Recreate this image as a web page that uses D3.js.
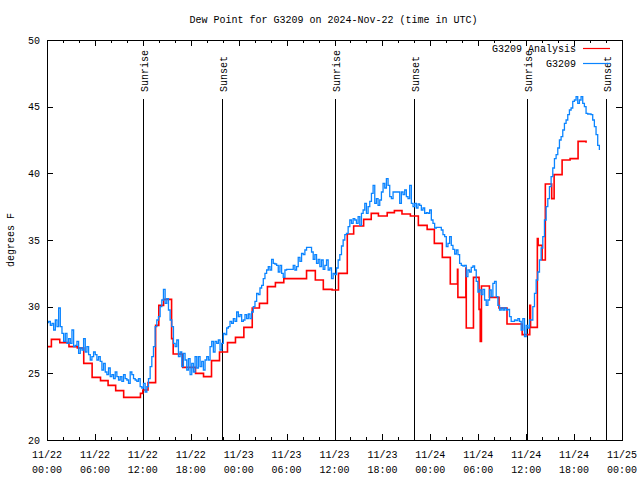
<!DOCTYPE html>
<html><head><meta charset="utf-8">
<script src="https://cdn.jsdelivr.net/npm/d3@7"></script>
<style>
body{margin:0;background:#fff}
svg{display:block}
text{font-family:"Liberation Mono","DejaVu Sans Mono",monospace;font-size:10px;fill:#000}
</style></head><body>
<svg id="c" width="640" height="480"></svg>
<script>
const titleText = "Dew Point for G3209 on 2024-Nov-22 (time in UTC)";
const yLabelText = "degrees F";
const legendLabels = ["G3209 Analysis", "G3209"];
const seriesColors = ["#ff0000", "#0a84ff"];
const yTickValues = [20, 25, 30, 35, 40, 45, 50];
const xMajorHours = [0, 6, 12, 18, 24, 30, 36, 42, 48, 54, 60, 66, 72];
const xTickDates = ["11/22","11/22","11/22","11/22","11/23","11/23","11/23","11/23","11/24","11/24","11/24","11/24","11/25"];
const xTickTimes = ["00:00","06:00","12:00","18:00","00:00","06:00","12:00","18:00","00:00","06:00","12:00","18:00","00:00"];
const xMinorHours = [2,4,8,10,14,16,20,22,26,28,32,34,38,40,44,46,50,52,56,58,62,64,68,70];
const sunriseHours = [12.05, 36.07, 60.08];
const sunsetHours = [21.93, 45.95, 69.97];

// Analysis (step series): hour since 11/22 00:00 UTC, dew point F
const analysisHours = [0, 0.55, 1.6, 2.75, 3.8, 4.6, 5.65, 6.7, 7.65, 8.6, 9.6, 11.7, 12.0, 12.65, 13.6, 14.0, 14.6, 15.6, 15.8, 17.0,
  18.6, 19.6, 20.6, 21.6, 22.6, 23.6, 24.65, 25.7, 26.6, 27.6, 28.6, 29.65, 32.5, 33.6, 34.6, 35.7, 36.5, 37.6, 38.4, 39.65,
  40.6, 41.5, 42.6, 43.5, 44.45, 45.5, 46.5, 47.6, 48.5, 49.5, 50.5, 51.4, 51.45, 52.45, 52.5, 53.4, 54.1, 54.25, 54.4, 55.4,
  56.6, 57.6, 59.5, 60.45, 60.55, 61.4, 61.5, 62.0, 62.4, 63.2, 63.5, 64.5, 65.5, 66.5, 67.5];
const analysisValues = [27.0, 27.55, 27.3, 27.0, 26.9, 25.75, 24.7, 24.45, 24.1, 23.7, 23.2, 23.5, 23.75, 24.3, 28.6, 30.1, 30.55, 27.6, 26.45, 25.45,
  25.0, 24.75, 25.95, 26.6, 27.3, 27.7, 28.45, 29.9, 30.25, 31.5, 31.8, 32.1, 32.7, 32.0, 31.3, 31.25, 32.5, 35.45, 36.05, 36.55,
  37.0, 36.8, 37.05, 37.2, 36.95, 36.8, 36.1, 35.8, 34.75, 33.7, 31.7, 32.8, 30.7, 32.9, 28.4, 32.2, 29.8, 27.4, 31.55, 30.7,
  29.9, 28.7, 27.9, 30.1, 28.45, 35.1, 34.6, 33.5, 39.2, 38.1, 39.9, 41.0, 41.1, 42.4, 42.3];

// Observations: regular samples starting 11/22 00:00 UTC
const obsIntervalMinutes = 12.5;
const obsValues = [
  28.8, 28.9, 28.6, 28.75, 28.25, 29.0, 28.5, 29.9, 28.5, 28.0,
  27.4, 28.0, 27.25, 27.6, 27.25, 28.25, 27.0, 27.1, 27.4, 26.5,
  26.9, 26.75, 27.6, 26.6, 27.0, 26.4, 26.0, 26.25, 26.6, 26.4,
  26.0, 26.25, 25.9, 25.25, 25.75, 25.1, 24.9, 25.4, 24.75, 24.9,
  24.6, 25.1, 24.75, 24.5, 24.75, 24.4, 24.9, 24.6, 24.5, 24.25,
  25.1, 24.9, 24.6, 24.5, 24.4, 24.6, 24.0, 23.9, 24.25, 23.6,
  24.0, 24.6, 25.5, 26.25, 27.0, 28.5, 29.0, 29.25, 30.0, 30.5,
  31.3, 30.25, 30.6, 29.75, 29.0, 28.5, 27.25, 27.0, 27.5, 26.25,
  26.6, 25.5, 26.5, 26.0, 25.25, 26.1, 24.9, 25.75, 25.1, 26.25,
  25.4, 26.25, 25.5, 25.9, 25.25, 26.0, 26.25, 26.0, 27.0, 27.4,
  26.6, 27.4, 27.25, 27.5, 26.75, 27.25, 28.0, 27.9, 28.4, 28.5,
  28.9, 28.75, 29.1, 28.9, 29.6, 29.25, 29.4, 28.9, 29.0,
  29.4, 29.1, 29.45, 29.1, 29.6, 30.0, 30.4, 31.0, 30.9, 31.4,
  31.6, 32.1, 32.5, 32.75, 33.0, 32.75, 33.55, 33.25, 33.2, 33.1,
  32.6, 33.1, 32.5, 32.2, 32.75, 32.8, 32.8, 32.8, 32.8, 33.1,
  32.75, 33.0, 33.7, 33.4, 34.0, 33.9, 34.25, 34.45, 34.45, 34.45,
  34.1, 33.55, 33.9, 33.25, 33.55, 33.0, 33.5, 32.8, 33.1, 33.5,
  32.75, 32.9, 32.1, 32.5, 32.4, 32.9, 33.5, 33.9, 34.55, 35.0,
  35.4, 35.5, 36.0, 36.5, 36.25, 36.6, 36.5, 36.25, 36.75, 36.1,
  37.0, 37.25, 37.75, 37.0, 37.5, 37.9, 38.5, 39.1, 37.75, 38.1,
  37.6, 38.0, 38.6, 39.25, 38.9, 39.6, 39.1, 38.25, 38.1, 38.6,
  38.6, 38.6, 38.6, 37.75, 38.6, 38.4, 38.75, 38.25, 38.1, 39.1,
  37.75, 37.5, 37.75, 37.4, 37.7, 37.6, 37.25, 37.4, 37.0,
  37.05, 37.0, 37.25, 36.5, 36.25, 35.9, 35.95, 35.95, 35.95, 35.75,
  35.4, 35.25, 34.5, 34.75, 35.25, 34.6, 34.3, 33.95, 34.25, 33.9,
  33.25, 33.1, 33.05, 33.1, 32.25, 32.75, 32.6, 32.95, 33.05, 32.75,
  31.9, 31.1, 31.25, 30.9, 31.3, 30.5, 30.1, 30.5, 31.25, 30.75,
  31.75, 31.9, 30.75, 30.1, 29.75, 29.9, 29.75, 29.9, 29.75, 29.8,
  29.25, 28.9, 28.9, 29.0, 28.95, 29.1, 28.9, 28.25, 29.1, 27.75,
  28.6, 28.4, 29.0, 29.0, 30.0, 31.0, 32.0, 32.6, 33.5, 34.4,
  35.25, 36.5, 37.5, 38.1, 39.0, 39.75, 40.4, 41.1, 41.4, 41.9,
  42.5, 42.75, 43.25, 43.75, 44.0, 44.4, 44.75, 44.9, 45.4, 45.5,
  45.75, 45.25, 45.5, 45.75, 45.25, 45.0, 44.5, 44.45, 44.45, 44.4,
  44.0, 43.5, 42.9, 42.1, 41.75];

const t0 = Date.UTC(2024, 10, 22, 0, 0);
const toDate = h => new Date(t0 + h * 3600e3);

const L = 47, R = 622, T = 40, B = 440;
const svg = d3.select("#c");
svg.append("rect").attr("width", 640).attr("height", 480).attr("fill", "#fff");

const x = d3.scaleUtc().domain([toDate(0), toDate(72)]).range([L, R]);
const y = d3.scaleLinear().domain([20, 50]).range([B, T]);

// Title
svg.append("text").attr("x", (L + R) / 2 - 1).attr("y", 23).attr("text-anchor", "middle").text(titleText);
// Y label
svg.append("text").attr("transform", `translate(14,${(T + B) / 2}) rotate(-90)`).attr("text-anchor", "middle").text(yLabelText);

// Axes ticks (inward, mirrored)
const tickG = svg.append("g").attr("shape-rendering", "crispEdges").attr("stroke", "#000");
function xt(h) { return Math.round(x(toDate(h))) + 0.5; }
function yt(v) { return Math.round(y(v)) + 0.5; }
xMajorHours.forEach(h => {
  tickG.append("line").attr("x1", xt(h)).attr("x2", xt(h)).attr("y1", B).attr("y2", B - 6);
  tickG.append("line").attr("x1", xt(h)).attr("x2", xt(h)).attr("y1", T).attr("y2", T + 6);
});
xMinorHours.forEach(h => {
  tickG.append("line").attr("x1", xt(h)).attr("x2", xt(h)).attr("y1", B).attr("y2", B - 3);
  tickG.append("line").attr("x1", xt(h)).attr("x2", xt(h)).attr("y1", T).attr("y2", T + 3);
});
yTickValues.forEach(v => {
  tickG.append("line").attr("x1", L).attr("x2", L + 6).attr("y1", yt(v)).attr("y2", yt(v));
  tickG.append("line").attr("x1", R).attr("x2", R - 6).attr("y1", yt(v)).attr("y2", yt(v));
});

// Tick labels
yTickValues.forEach(v => {
  svg.append("text").attr("x", 40).attr("y", y(v)).attr("dy", "0.35em").attr("text-anchor", "end").text(v);
});
xMajorHours.forEach((h, i) => {
  const t = svg.append("text").attr("text-anchor", "middle");
  t.append("tspan").attr("x", x(toDate(h))).attr("y", 458).text(xTickDates[i]);
  t.append("tspan").attr("x", x(toDate(h))).attr("y", 473).text(xTickTimes[i]);
});

// Sunrise / sunset markers
const events = sunriseHours.map(h => ({h, label: "Sunrise"})).concat(sunsetHours.map(h => ({h, label: "Sunset"})));
events.forEach(e => {
  const xx = xt(e.h);
  svg.append("line").attr("x1", xx).attr("x2", xx).attr("y1", 99).attr("y2", B)
    .attr("stroke", "#000").attr("stroke-width", 1).attr("shape-rendering", "crispEdges");
  svg.append("text").attr("transform", `translate(${xx + 4},92) rotate(-90)`).text(e.label);
});

// Data lines
const clip = svg.append("clipPath").attr("id", "pc").append("rect").attr("x", L).attr("y", T).attr("width", R - L).attr("height", B - T);
const analysis = analysisHours.map((h, i) => [toDate(h), analysisValues[i]]);
const obs = obsValues.map((v, i) => [toDate(i * obsIntervalMinutes / 60), v]);
const line = d3.line().x(d => x(d[0])).y(d => y(d[1])).curve(d3.curveStepAfter);
svg.append("path").datum(analysis).attr("d", line).attr("fill", "none")
  .attr("stroke", seriesColors[0]).attr("stroke-width", 1.6).attr("clip-path", "url(#pc)");
svg.append("path").datum(obs).attr("d", line).attr("fill", "none")
  .attr("stroke", seriesColors[1]).attr("stroke-width", 1.3).attr("clip-path", "url(#pc)");

// Legend
legendLabels.forEach((lab, i) => {
  const ly = 48 + i * 15;
  svg.append("text").attr("x", 576).attr("y", ly).attr("dy", "0.35em").attr("text-anchor", "end").text(lab);
  svg.append("line").attr("x1", 583).attr("x2", 610).attr("y1", ly + 0.5).attr("y2", ly + 0.5)
    .attr("stroke", seriesColors[i]).attr("stroke-width", 1.2);
});

// Frame
svg.append("rect").attr("x", L + 0.5).attr("y", T + 0.5).attr("width", R - L).attr("height", B - T)
  .attr("fill", "none").attr("stroke", "#000").attr("shape-rendering", "crispEdges");
</script>
</body></html>
